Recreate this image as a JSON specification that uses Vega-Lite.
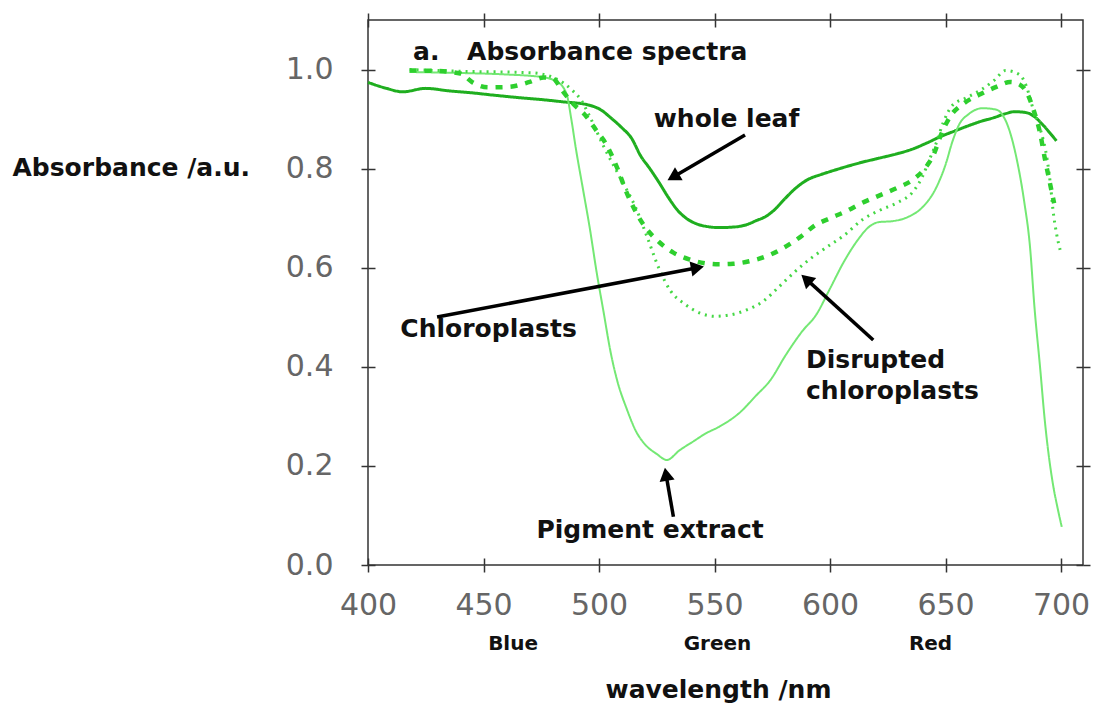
{
  "$schema": "https://vega.github.io/schema/vega-lite/v6.json",
  "width": 715,
  "height": 545,
  "autosize": {"type": "none"},
  "padding": {"left": 368, "top": 20, "right": 15, "bottom": 140},
  "background": "white",
  "config": {
    "view": {"stroke": "#333", "strokeWidth": 1.5},
    "axis": {"domain": false, "grid": false, "tickColor": "#333", "tickWidth": 1.5, "labelFont": "DejaVu Sans", "labelFontSize": 30, "labelColor": "#666", "labelFlush": false, "labelOverlap": false, "titleFont": "DejaVu Sans", "titleFontSize": 25, "titleFontWeight": "bold", "titleColor": "#111"}
  },
  "datasets": {
    "spectra": [
      {"s":"whole leaf","wl":400,"A":0.974},{"s":"whole leaf","wl":408,"A":0.962},{"s":"whole leaf","wl":415,"A":0.955},{"s":"whole leaf","wl":425,"A":0.962},{"s":"whole leaf","wl":435,"A":0.957},{"s":"whole leaf","wl":445,"A":0.953},{"s":"whole leaf","wl":455,"A":0.948},{"s":"whole leaf","wl":466,"A":0.943},{"s":"whole leaf","wl":476,"A":0.939},{"s":"whole leaf","wl":484,"A":0.935},{"s":"whole leaf","wl":495,"A":0.929},{"s":"whole leaf","wl":501,"A":0.918},{"s":"whole leaf","wl":505,"A":0.903},{"s":"whole leaf","wl":510,"A":0.882},{"s":"whole leaf","wl":514,"A":0.862},{"s":"whole leaf","wl":518,"A":0.826},{"s":"whole leaf","wl":522,"A":0.8},{"s":"whole leaf","wl":526,"A":0.772},{"s":"whole leaf","wl":530,"A":0.742},{"s":"whole leaf","wl":534,"A":0.716},{"s":"whole leaf","wl":538,"A":0.699},{"s":"whole leaf","wl":542,"A":0.689},{"s":"whole leaf","wl":547,"A":0.683},{"s":"whole leaf","wl":552,"A":0.681},{"s":"whole leaf","wl":558,"A":0.682},{"s":"whole leaf","wl":564,"A":0.687},{"s":"whole leaf","wl":568,"A":0.695},{"s":"whole leaf","wl":572,"A":0.703},{"s":"whole leaf","wl":576,"A":0.717},{"s":"whole leaf","wl":580,"A":0.737},{"s":"whole leaf","wl":585,"A":0.76},{"s":"whole leaf","wl":590,"A":0.777},{"s":"whole leaf","wl":596,"A":0.788},{"s":"whole leaf","wl":600,"A":0.794},{"s":"whole leaf","wl":607,"A":0.804},{"s":"whole leaf","wl":614,"A":0.813},{"s":"whole leaf","wl":622,"A":0.822},{"s":"whole leaf","wl":629,"A":0.83},{"s":"whole leaf","wl":636,"A":0.84},{"s":"whole leaf","wl":642,"A":0.852},{"s":"whole leaf","wl":648,"A":0.865},{"s":"whole leaf","wl":654,"A":0.876},{"s":"whole leaf","wl":659,"A":0.885},{"s":"whole leaf","wl":665,"A":0.895},{"s":"whole leaf","wl":671,"A":0.903},{"s":"whole leaf","wl":676,"A":0.911},{"s":"whole leaf","wl":680,"A":0.915},{"s":"whole leaf","wl":685,"A":0.913},{"s":"whole leaf","wl":689,"A":0.903},{"s":"whole leaf","wl":692,"A":0.889},{"s":"whole leaf","wl":695,"A":0.873},{"s":"whole leaf","wl":698,"A":0.856},
      {"s":"Pigment extract","wl":418,"A":0.995},{"s":"Pigment extract","wl":440,"A":0.993},{"s":"Pigment extract","wl":460,"A":0.99},{"s":"Pigment extract","wl":475,"A":0.985},{"s":"Pigment extract","wl":482,"A":0.975},{"s":"Pigment extract","wl":486,"A":0.95},{"s":"Pigment extract","wl":488,"A":0.9},{"s":"Pigment extract","wl":490,"A":0.84},{"s":"Pigment extract","wl":493,"A":0.76},{"s":"Pigment extract","wl":496,"A":0.68},{"s":"Pigment extract","wl":499,"A":0.59},{"s":"Pigment extract","wl":502,"A":0.51},{"s":"Pigment extract","wl":505,"A":0.43},{"s":"Pigment extract","wl":508,"A":0.37},{"s":"Pigment extract","wl":512,"A":0.315},{"s":"Pigment extract","wl":516,"A":0.27},{"s":"Pigment extract","wl":520,"A":0.243},{"s":"Pigment extract","wl":525,"A":0.224},{"s":"Pigment extract","wl":529.3,"A":0.212},{"s":"Pigment extract","wl":535,"A":0.232},{"s":"Pigment extract","wl":541,"A":0.25},{"s":"Pigment extract","wl":546,"A":0.265},{"s":"Pigment extract","wl":552,"A":0.279},{"s":"Pigment extract","wl":561,"A":0.308},{"s":"Pigment extract","wl":568,"A":0.342},{"s":"Pigment extract","wl":574,"A":0.372},{"s":"Pigment extract","wl":581,"A":0.425},{"s":"Pigment extract","wl":588,"A":0.472},{"s":"Pigment extract","wl":594,"A":0.505},{"s":"Pigment extract","wl":600,"A":0.558},{"s":"Pigment extract","wl":606,"A":0.612},{"s":"Pigment extract","wl":612,"A":0.656},{"s":"Pigment extract","wl":617,"A":0.683},{"s":"Pigment extract","wl":621,"A":0.692},{"s":"Pigment extract","wl":627,"A":0.694},{"s":"Pigment extract","wl":634,"A":0.703},{"s":"Pigment extract","wl":640,"A":0.722},{"s":"Pigment extract","wl":646,"A":0.762},{"s":"Pigment extract","wl":650,"A":0.808},{"s":"Pigment extract","wl":653,"A":0.855},{"s":"Pigment extract","wl":656,"A":0.89},{"s":"Pigment extract","wl":660,"A":0.91},{"s":"Pigment extract","wl":666,"A":0.922},{"s":"Pigment extract","wl":672,"A":0.919},{"s":"Pigment extract","wl":675,"A":0.906},{"s":"Pigment extract","wl":678,"A":0.872},{"s":"Pigment extract","wl":681,"A":0.815},{"s":"Pigment extract","wl":684,"A":0.735},{"s":"Pigment extract","wl":686.6,"A":0.64},{"s":"Pigment extract","wl":688.5,"A":0.52},{"s":"Pigment extract","wl":690.9,"A":0.4},{"s":"Pigment extract","wl":693,"A":0.29},{"s":"Pigment extract","wl":696.6,"A":0.16},{"s":"Pigment extract","wl":698.5,"A":0.115},{"s":"Pigment extract","wl":700.3,"A":0.077},
      {"s":"Disrupted chloroplasts","wl":418,"A":1.0},{"s":"Disrupted chloroplasts","wl":430,"A":0.998},{"s":"Disrupted chloroplasts","wl":445,"A":0.996},{"s":"Disrupted chloroplasts","wl":460,"A":0.995},{"s":"Disrupted chloroplasts","wl":472,"A":0.993},{"s":"Disrupted chloroplasts","wl":479,"A":0.986},{"s":"Disrupted chloroplasts","wl":484,"A":0.975},{"s":"Disrupted chloroplasts","wl":488,"A":0.96},{"s":"Disrupted chloroplasts","wl":492,"A":0.94},{"s":"Disrupted chloroplasts","wl":496,"A":0.905},{"s":"Disrupted chloroplasts","wl":502,"A":0.845},{"s":"Disrupted chloroplasts","wl":509,"A":0.783},{"s":"Disrupted chloroplasts","wl":516,"A":0.72},{"s":"Disrupted chloroplasts","wl":521,"A":0.66},{"s":"Disrupted chloroplasts","wl":526,"A":0.598},{"s":"Disrupted chloroplasts","wl":531,"A":0.553},{"s":"Disrupted chloroplasts","wl":537,"A":0.527},{"s":"Disrupted chloroplasts","wl":544,"A":0.508},{"s":"Disrupted chloroplasts","wl":550,"A":0.502},{"s":"Disrupted chloroplasts","wl":557,"A":0.505},{"s":"Disrupted chloroplasts","wl":564,"A":0.515},{"s":"Disrupted chloroplasts","wl":571,"A":0.532},{"s":"Disrupted chloroplasts","wl":578,"A":0.562},{"s":"Disrupted chloroplasts","wl":586,"A":0.597},{"s":"Disrupted chloroplasts","wl":592,"A":0.62},{"s":"Disrupted chloroplasts","wl":599,"A":0.643},{"s":"Disrupted chloroplasts","wl":606,"A":0.665},{"s":"Disrupted chloroplasts","wl":614,"A":0.697},{"s":"Disrupted chloroplasts","wl":622,"A":0.717},{"s":"Disrupted chloroplasts","wl":629,"A":0.731},{"s":"Disrupted chloroplasts","wl":636,"A":0.754},{"s":"Disrupted chloroplasts","wl":640,"A":0.784},{"s":"Disrupted chloroplasts","wl":643,"A":0.818},{"s":"Disrupted chloroplasts","wl":646,"A":0.852},{"s":"Disrupted chloroplasts","wl":649,"A":0.893},{"s":"Disrupted chloroplasts","wl":653,"A":0.928},{"s":"Disrupted chloroplasts","wl":659,"A":0.943},{"s":"Disrupted chloroplasts","wl":665,"A":0.958},{"s":"Disrupted chloroplasts","wl":671,"A":0.978},{"s":"Disrupted chloroplasts","wl":676,"A":0.998},{"s":"Disrupted chloroplasts","wl":682,"A":0.99},{"s":"Disrupted chloroplasts","wl":685,"A":0.966},{"s":"Disrupted chloroplasts","wl":688,"A":0.919},{"s":"Disrupted chloroplasts","wl":691,"A":0.88},{"s":"Disrupted chloroplasts","wl":694,"A":0.818},{"s":"Disrupted chloroplasts","wl":695.5,"A":0.764},{"s":"Disrupted chloroplasts","wl":696.5,"A":0.717},{"s":"Disrupted chloroplasts","wl":698,"A":0.67},{"s":"Disrupted chloroplasts","wl":699.6,"A":0.636},
      {"s":"Chloroplasts","wl":418,"A":0.998},{"s":"Chloroplasts","wl":430,"A":0.997},{"s":"Chloroplasts","wl":440,"A":0.992},{"s":"Chloroplasts","wl":445,"A":0.975},{"s":"Chloroplasts","wl":452,"A":0.964},{"s":"Chloroplasts","wl":461,"A":0.965},{"s":"Chloroplasts","wl":470,"A":0.975},{"s":"Chloroplasts","wl":476,"A":0.984},{"s":"Chloroplasts","wl":480,"A":0.982},{"s":"Chloroplasts","wl":484,"A":0.958},{"s":"Chloroplasts","wl":489,"A":0.93},{"s":"Chloroplasts","wl":494,"A":0.908},{"s":"Chloroplasts","wl":499,"A":0.876},{"s":"Chloroplasts","wl":503,"A":0.85},{"s":"Chloroplasts","wl":508,"A":0.8},{"s":"Chloroplasts","wl":512,"A":0.751},{"s":"Chloroplasts","wl":516,"A":0.712},{"s":"Chloroplasts","wl":520,"A":0.682},{"s":"Chloroplasts","wl":526,"A":0.652},{"s":"Chloroplasts","wl":532,"A":0.631},{"s":"Chloroplasts","wl":539,"A":0.617},{"s":"Chloroplasts","wl":546,"A":0.609},{"s":"Chloroplasts","wl":552,"A":0.607},{"s":"Chloroplasts","wl":558,"A":0.608},{"s":"Chloroplasts","wl":565,"A":0.613},{"s":"Chloroplasts","wl":574,"A":0.626},{"s":"Chloroplasts","wl":582,"A":0.646},{"s":"Chloroplasts","wl":588,"A":0.665},{"s":"Chloroplasts","wl":593,"A":0.684},{"s":"Chloroplasts","wl":600,"A":0.7},{"s":"Chloroplasts","wl":607,"A":0.714},{"s":"Chloroplasts","wl":614,"A":0.731},{"s":"Chloroplasts","wl":622,"A":0.747},{"s":"Chloroplasts","wl":629,"A":0.761},{"s":"Chloroplasts","wl":636,"A":0.778},{"s":"Chloroplasts","wl":641,"A":0.8},{"s":"Chloroplasts","wl":645,"A":0.83},{"s":"Chloroplasts","wl":648,"A":0.868},{"s":"Chloroplasts","wl":652,"A":0.905},{"s":"Chloroplasts","wl":658,"A":0.932},{"s":"Chloroplasts","wl":665,"A":0.95},{"s":"Chloroplasts","wl":672,"A":0.965},{"s":"Chloroplasts","wl":678,"A":0.975},{"s":"Chloroplasts","wl":682,"A":0.97},{"s":"Chloroplasts","wl":685,"A":0.955},{"s":"Chloroplasts","wl":688,"A":0.92},{"s":"Chloroplasts","wl":691,"A":0.87},{"s":"Chloroplasts","wl":693,"A":0.82},{"s":"Chloroplasts","wl":695,"A":0.775},{"s":"Chloroplasts","wl":697,"A":0.73}
    ],
    "arrows": [
      {"arrow":"whole leaf","x":563.2,"y":0.868,"x2":532.1,"y2":0.783},
      {"arrow":"Chloroplasts","x":429.9,"y":0.5005,"x2":542.6,"y2":0.6},
      {"arrow":"Disrupted chloroplasts","x":618.7,"y":0.454,"x2":589.7,"y2":0.577},
      {"arrow":"Pigment extract","x":532.2,"y":0.0975,"x2":529.0,"y2":0.183}
    ],
    "centerLabels": [
      {"t":"whole leaf","x":555.2,"y":0.884},
      {"t":"Chloroplasts","x":452.2,"y":0.46},
      {"t":"Pigment extract","x":522.1,"y":0.0545}
    ],
    "leftLabels": [
      {"t":"a.","x":419.5,"y":1.019},
      {"t":"Absorbance spectra","x":442.9,"y":1.019},
      {"t":"Disrupted","x":589.6,"y":0.3976},
      {"t":"chloroplasts","x":589.6,"y":0.335}
    ],
    "bands": [
      {"t":"Blue","x":462.8,"y":-0.1715},
      {"t":"Green","x":551.3,"y":-0.1715},
      {"t":"Red","x":643.5,"y":-0.1715}
    ]
  },
  "layer": [
    {
      "data": {"name": "spectra"},
      "mark": {"type": "line", "interpolate": "monotone"},
      "encoding": {
        "x": {"field": "wl", "type": "quantitative", "scale": {"domain": [400, 709.5], "nice": false, "zero": false},
          "axis": {"orient": "bottom", "values": [400, 450, 500, 550, 600, 650, 700], "tickSize": 7, "labelPadding": 18, "title": "wavelength /nm", "titleX": 350, "titleY": 132, "titleAlign": "center", "titleBaseline": "alphabetic"}},
        "y": {"field": "A", "type": "quantitative", "scale": {"domain": [0, 1.1], "nice": false, "zero": false},
          "axis": {"orient": "left", "values": [0, 0.2, 0.4, 0.6, 0.8, 1.0], "format": ".1f", "tickSize": 7, "labelPadding": 28, "title": "Absorbance /a.u.", "titleAngle": 0, "titleX": -356, "titleY": 155, "titleAlign": "left", "titleBaseline": "alphabetic"}},
        "color": {"field": "s", "type": "nominal", "legend": null,
          "scale": {"domain": ["whole leaf", "Chloroplasts", "Disrupted chloroplasts", "Pigment extract"], "range": ["#1fae1f", "#2ecf2e", "#45d845", "#74e874"]}},
        "strokeDash": {"field": "s", "type": "nominal", "legend": null,
          "scale": {"domain": ["whole leaf", "Chloroplasts", "Disrupted chloroplasts", "Pigment extract"], "range": [[1, 0], [7, 8], [2, 5], [1, 0]]}},
        "strokeWidth": {"field": "s", "type": "nominal", "legend": null,
          "scale": {"type": "ordinal", "domain": ["whole leaf", "Chloroplasts", "Disrupted chloroplasts", "Pigment extract"], "range": [3, 4.5, 3, 2]}}
      }
    },
    {
      "data": {"name": "arrows"},
      "mark": {"type": "rule", "color": "#000", "strokeWidth": 3.5},
      "encoding": {
        "x": {"field": "x", "type": "quantitative", "scale": {"domain": [400, 709.5], "nice": false, "zero": false},
          "axis": {"orient": "top", "values": [400, 450, 500, 550, 600, 650, 700], "tickSize": 7, "labels": false, "title": null}},
        "x2": {"field": "x2"},
        "y": {"field": "y", "type": "quantitative", "scale": {"domain": [0, 1.1], "nice": false, "zero": false},
          "axis": {"orient": "right", "values": [0, 0.2, 0.4, 0.6, 0.8, 1.0], "tickSize": 7, "labels": false, "title": null}},
        "y2": {"field": "y2"}
      }
    },
    {
      "data": {"name": "arrows"},
      "mark": {"type": "point", "shape": "triangle-up", "filled": true, "color": "#000", "size": 230, "opacity": 1},
      "encoding": {
        "x": {"field": "x2", "type": "quantitative", "scale": {"domain": [400, 709.5], "nice": false, "zero": false},
          "axis": {"orient": "bottom", "values": [400, 450, 500, 550, 600, 650, 700], "tickSize": -7, "labels": false, "title": null}},
        "y": {"field": "y2", "type": "quantitative", "scale": {"domain": [0, 1.1], "nice": false, "zero": false},
          "axis": {"orient": "left", "values": [0, 0.2, 0.4, 0.6, 0.8, 1.0], "tickSize": -7, "labels": false, "title": null}},
        "angle": {"field": "arrow", "type": "nominal", "legend": null,
          "scale": {"type": "ordinal", "domain": ["whole leaf", "Chloroplasts", "Disrupted chloroplasts", "Pigment extract"], "range": [239.7, 79.3, 312.2, 350.3]}}
      }
    },
    {
      "data": {"name": "leftLabels"},
      "mark": {"type": "text", "align": "left", "baseline": "alphabetic", "font": "DejaVu Sans", "fontSize": 25, "fontWeight": "bold", "color": "#111"},
      "encoding": {
        "x": {"field": "x", "type": "quantitative", "scale": {"domain": [400, 709.5], "nice": false, "zero": false},
          "axis": {"orient": "top", "values": [400, 450, 500, 550, 600, 650, 700], "tickSize": -7, "labels": false, "title": null}},
        "y": {"field": "y", "type": "quantitative", "scale": {"domain": [0, 1.1], "nice": false, "zero": false},
          "axis": {"orient": "right", "values": [0, 0.2, 0.4, 0.6, 0.8, 1.0], "tickSize": -7, "labels": false, "title": null}},
        "text": {"field": "t"}
      }
    },
    {
      "data": {"name": "centerLabels"},
      "mark": {"type": "text", "align": "center", "baseline": "alphabetic", "font": "DejaVu Sans", "fontSize": 25, "fontWeight": "bold", "color": "#111"},
      "encoding": {
        "x": {"field": "x", "type": "quantitative", "scale": {"domain": [400, 709.5], "nice": false, "zero": false}, "axis": null},
        "y": {"field": "y", "type": "quantitative", "scale": {"domain": [0, 1.1], "nice": false, "zero": false}, "axis": null},
        "text": {"field": "t"}
      }
    },
    {
      "data": {"name": "bands"},
      "mark": {"type": "text", "align": "center", "baseline": "alphabetic", "font": "DejaVu Sans", "fontSize": 20, "fontWeight": "bold", "color": "#111"},
      "encoding": {
        "x": {"field": "x", "type": "quantitative", "scale": {"domain": [400, 709.5], "nice": false, "zero": false}, "axis": null},
        "y": {"field": "y", "type": "quantitative", "scale": {"domain": [0, 1.1], "nice": false, "zero": false}, "axis": null},
        "text": {"field": "t"}
      }
    }
  ],
  "resolve": {"axis": {"x": "independent", "y": "independent"}}
}
